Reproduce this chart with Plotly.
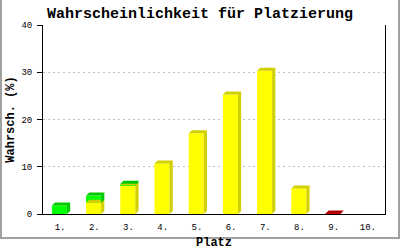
import plotly.graph_objects as go

# ---- data ----
categories = ["1.", "2.", "3.", "4.", "5.", "6.", "7.", "8.", "9.", "10."]
yellow_vals = [0, 2.4, 6.1, 10.7, 17.1, 25.3, 30.3, 5.4, 0, 0]
green_vals = [1.8, 1.5, 0.3, 0, 0, 0, 0, 0, 0, 0]
red_vals = [0, 0, 0, 0, 0, 0, 0, 0, 0.12, 0]
y_ticks = [0, 10, 20, 30, 40]

title_text = "Wahrscheinlichkeit für Platzierung"
x_title = "Platz"
y_title = "Wahrsch. (%)"

# ---- style ----
W, H = 400, 250
ML, MR, MT, MB = 43, 15, 25, 36
PW, PH = W - ML - MR, H - MT - MB
BAR_OFF, BAR_W = -0.24, 0.44
DX = 3.2 / (PW / len(categories))   # depth in category units
DY = 3.0 / (PH / 40.0)              # depth in value units
MONO = "Liberation Mono, DejaVu Sans Mono, monospace"

series = [
    (yellow_vals, "#FFFF00", "#D2D000"),
    (green_vals, "#00FF00", "#00C800"),
    (red_vals, "#DD0000", "#B00000"),
]

xs = list(range(len(categories)))
fig = go.Figure()
base = [0.0] * len(categories)
for vals, front, side in series:
    px, py = [], []
    for i, v in enumerate(vals):
        if v <= 0:
            continue
        b, t = base[i], base[i] + v
        l, r = i + BAR_OFF, i + BAR_OFF + BAR_W
        px += [r, r + DX, r + DX, l + DX, l, r, r, None]
        py += [b, b + DY, t + DY, t + DY, t, t, b, None]
    fig.add_trace(go.Scatter(x=px, y=py, mode="lines", fill="toself",
                             fillcolor=side, line=dict(width=0, color=side),
                             hoverinfo="skip", showlegend=False))
    fig.add_trace(go.Bar(x=xs, y=vals, base=list(base), width=BAR_W,
                         offset=BAR_OFF, marker=dict(color=front, line=dict(width=0)),
                         hoverinfo="skip", showlegend=False))
    base = [base[i] + vals[i] for i in range(len(vals))]

fig.update_layout(
    width=W, height=H,
    margin=dict(l=ML, r=MR, t=MT, b=MB, pad=0, autoexpand=False),
    paper_bgcolor="white", plot_bgcolor="white",
    barmode="overlay",
    title=dict(text=title_text, x=0.5, xanchor="center", y=1 - 13 / H, yanchor="middle",
               font=dict(family=MONO, size=15, color="black", weight="bold")),
    xaxis=dict(
        range=[-0.5, len(categories) - 0.5], tickvals=xs, ticktext=categories,
        showgrid=False, zeroline=False, showline=True, linecolor="black", linewidth=1,
        ticks="", ticklabelstandoff=4, automargin=False,
        tickfont=dict(family=MONO, size=9, color="black"),
        title=dict(text=x_title, standoff=6,
                   font=dict(family=MONO, size=12, color="black", weight="bold")),
        fixedrange=True,
    ),
    yaxis=dict(
        range=[0, 40], tickvals=y_ticks, automargin=False,
        showgrid=True, gridcolor="#C0C0C0", griddash="2px,3px", gridwidth=1,
        zeroline=False, showline=True, mirror=True, linecolor="black", linewidth=1,
        ticks="outside", ticklen=5, tickcolor="black", ticklabelstandoff=3,
        tickfont=dict(family=MONO, size=9, color="black"),
        title=dict(text=y_title, standoff=4,
                   font=dict(family=MONO, size=12, color="black", weight="bold")),
        fixedrange=True,
    ),
)

# outer grey frame
fig.add_shape(type="rect", xref="paper", yref="paper",
              x0=(1 - ML) / PW, x1=(W - 1 - ML) / PW,
              y0=(H - MT - (H - 1)) / PH, y1=(H - MT - 1) / PH,
              line=dict(color="#A0A0A0", width=2), fillcolor="rgba(0,0,0,0)", layer="above")

fig.write_html("out.html")
